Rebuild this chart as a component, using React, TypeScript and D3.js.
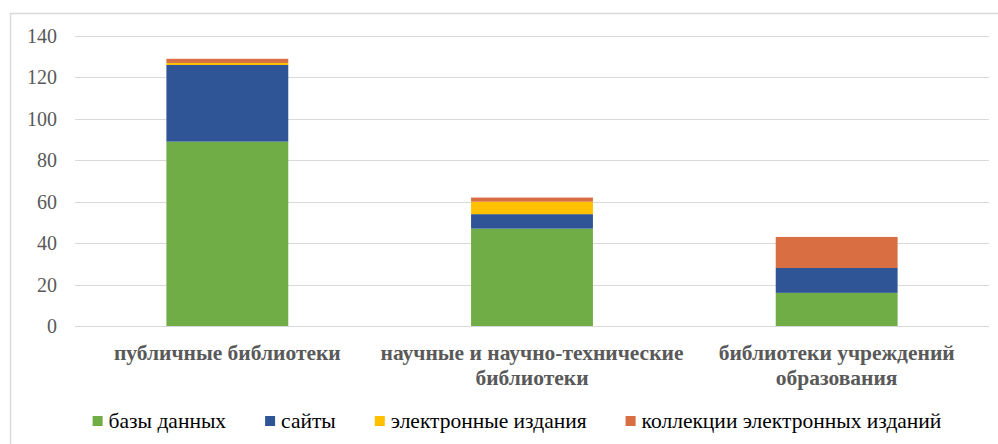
import React from 'react';
import * as d3 from 'd3';

// categories (two-line labels) and stacked series
const categories = ['публичные библиотеки', 'научные и научно-технические библиотеки', 'библиотеки учреждений образования'];
const categoryLines = [
  ['публичные библиотеки'],
  ['научные и научно-технические', 'библиотеки'],
  ['библиотеки учреждений', 'образования'],
];
const seriesNames = ['базы данных', 'сайты', 'электронные издания', 'коллекции электронных изданий'];
const seriesColors = ['#70AD47', '#2F5597', '#FFC000', '#D86E42'];
const bazy = [89, 47, 16];
const saity = [37, 7, 12];
const izdaniya = [1, 6, 0];
const kollekcii = [2, 2, 15];
const yTicks = [0, 20, 40, 60, 80, 100, 120, 140];

const W = 998;
const H = 444;
const FONT = "'Liberation Serif', Tinos, 'Times New Roman', serif";

const plot = { left: 75, right: 989, top: 36, bottom: 326 };

const x = d3.scaleBand<string>()
  .domain(categories)
  .range([plot.left, plot.right])
  .paddingInner(0.6)
  .paddingOuter(0.3);

const y = d3.scaleLinear().domain([0, 140]).range([plot.bottom, plot.top]);

const rows = categories.map((c, i) => ({
  cat: c,
  s0: bazy[i], s1: saity[i], s2: izdaniya[i], s3: kollekcii[i],
}));
const layers = d3.stack<any>().keys(['s0', 's1', 's2', 's3'])(rows);

// measure legend text on a canvas so items sit side by side
const measure = (txt: string, size: number) => {
  const ctx = document.createElement('canvas').getContext('2d')!;
  ctx.font = `${size}px ${FONT}`;
  return ctx.measureText(txt).width;
};

const App = () => {
  const legendSize = 21.5;
  const swatchGap = 16;
  const itemGap = 39;
  const widths = seriesNames.map(n => swatchGap + measure(n, legendSize));
  const total = d3.sum(widths) + itemGap * (widths.length - 1);
  const starts: number[] = [];
  let cx = 517 - total / 2;
  widths.forEach(w => { starts.push(cx); cx += w + itemGap; });

  const txt = (size: number, weight: string = 'normal') => ({ fontFamily: FONT, fontSize: `${size}px`, fontWeight: weight as any });

  return (
    <svg width={W} height={H} style={{ position: 'absolute', left: 0, top: 0, background: '#fff' }}>
      {/* chart frame */}
      <rect x={10.5} y={13.5} width={1000} height={450} fill="none" stroke="#d9d9d9" strokeWidth={1.5} />

      {/* gridlines + y labels */}
      {yTicks.map(t => (
        <g key={t}>
          <line x1={plot.left} x2={plot.right} y1={Math.round(y(t)) + 0.5} y2={Math.round(y(t)) + 0.5}
            stroke="#d9d9d9" strokeWidth={1} />
          <text x={57} y={y(t) + 7} textAnchor="end" style={txt(20)} fill="#595959">{t}</text>
        </g>
      ))}

      {/* stacked bars */}
      {layers.map((layer, li) => (
        <g key={li} fill={seriesColors[li]}>
          {layer.map((d: any) => (
            <rect key={d.data.cat} x={x(d.data.cat)} width={x.bandwidth()}
              y={y(d[1])} height={y(d[0]) - y(d[1])} />
          ))}
        </g>
      ))}

      {/* category labels */}
      {categories.map((c, i) => {
        const cxm = x(c)! + x.bandwidth() / 2;
        return (
          <text key={c} x={cxm} y={360} textAnchor="middle" style={txt(21.5, 'bold')} fill="#595959">
            {categoryLines[i].map((line, k) => (
              <tspan key={k} x={cxm} dy={k === 0 ? 0 : 25}>{line}</tspan>
            ))}
          </text>
        );
      })}

      {/* legend */}
      {seriesNames.map((n, i) => (
        <g key={n} transform={`translate(${starts[i]},421)`}>
          <rect y={-5} width={10} height={10} fill={seriesColors[i]} />
          <text x={swatchGap} y={7} style={txt(legendSize)} fill="#000">{n}</text>
        </g>
      ))}
    </svg>
  );
};

export default App;
